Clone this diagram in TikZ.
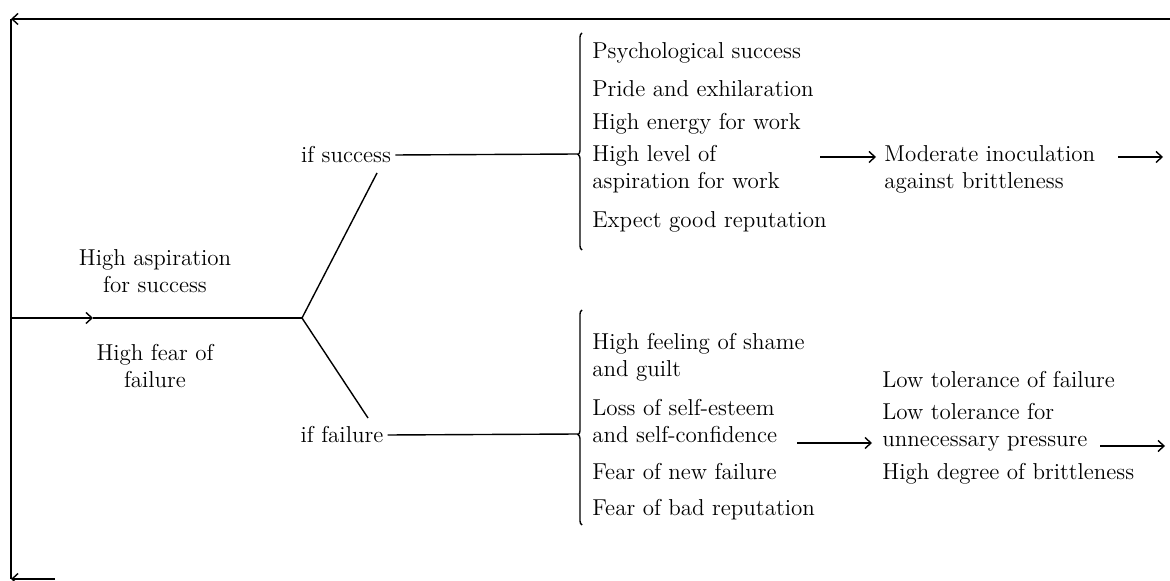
\documentclass[11pt,tikz,border=0pt]{standalone}
\usepackage{fontspec}
\usetikzlibrary{arrows.meta,decorations.pathreplacing}
\tikzset{
  >={Straight Barb[length=3pt,width=5.5pt]},
  line/.style={line width=0.7pt},
  item/.style={anchor=west, inner sep=1pt, align=left},
  label/.style={inner sep=2pt, align=center},
  bracket/.style={line width=0.7pt, decorate, decoration={brace, amplitude=2pt, aspect=#1}}
}
\begin{document}
\begin{tikzpicture}[x=0.5pt,y=-0.5pt,font=\fontsize{11.5pt}{13.5pt}\selectfont]
\useasboundingbox (0,0) rectangle (1170,581);

% frame round the picture
\coordinate (tr) at (1170,19);
\coordinate (tl) at (11,19);
\coordinate (bl) at (11,579);
\coordinate (bb) at (55,579);
\draw[line,->] (tr) -- (tl);
\draw[line] (tl) -- (bl);
\draw[line,->] (bb) -- (bl);

% start and fork
\coordinate (src) at (11,318);
\coordinate (mid) at (93,318);
\coordinate (fork) at (302,318);
\node[label] (asp) at (155,271) {High aspiration\\for success};
\node[label] (fear) at (155,366) {High fear of\\failure};
\draw[line,->] (src) -- (mid);
\draw[line] (mid) -- (fork);

\node[label] (ifs) at (346,155) {if success};
\node[label] (iff) at (342,435) {if failure};
\coordinate (up) at (377,173);
\coordinate (dn) at (368,418);
\draw[line] (up) -- (fork) -- (dn);

% success side
\coordinate (sbr) at (578,154);
\draw[bracket=0.44] (582,250) -- (582,33);
\draw[line] (ifs.east) -- (sbr);
\node[item] (s1) at (590,53) {Psychological success};
\node[item] (s2) at (590,89) {Pride and exhilaration};
\node[item] (s3) at (590,124) {High energy for work};
\node[item] (s4) at (590,169) {High level of\\aspiration for work};
\node[item] (s5) at (590,222) {Expect good reputation};

\node[item] (mod) at (882,169) {Moderate inoculation\\against brittleness};
\coordinate (sa) at (820,157);
\coordinate (mo) at (1118,157);
\coordinate (sout) at (1163,157);
\draw[line,->] (sa) -- ([xshift=-3pt]sa -| mod.west);
\draw[line,->] (mo) -- (sout);

% failure side
\coordinate (fbr) at (578,434);
\draw[bracket=0.42] (582,525) -- (582,310);
\draw[line] (iff.east) -- (fbr);
\node[item] (f1) at (590,357) {High feeling of shame\\and guilt};
\node[item] (f2) at (590,421) {Loss of self-esteem\\and self-confidence};
\node[item] (f3) at (590,472) {Fear of new failure};
\node[item] (f4) at (590,510) {Fear of bad reputation};

\node[item] (l1) at (880,380) {Low tolerance of failure};
\node[item] (l2) at (880,427) {Low tolerance for\\unnecessary pressure};
\node[item] (l3) at (880,474) {High degree of brittleness};
\coordinate (fa) at (797,443);
\coordinate (fo) at (1100,446);
\coordinate (fout) at (1165,446);
\draw[line,->] (fa) -- ([xshift=-4pt]fa -| l2.west);
\draw[line,->] (fo) -- (fout);
\end{tikzpicture}
\end{document}
